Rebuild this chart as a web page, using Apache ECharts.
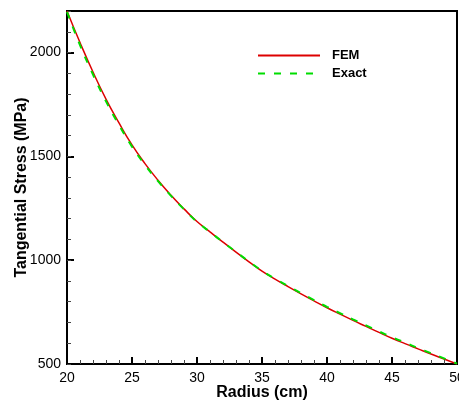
<!DOCTYPE html>
<html><head><meta charset="utf-8">
<script src="https://cdn.jsdelivr.net/npm/echarts@6/dist/echarts.min.js"></script>
<style>html,body{margin:0;padding:0;background:#fff}#c{width:459px;height:401px}</style>
</head><body><div id="c"></div>
<script>
const radius = [20,21,22,23,24,25,26,27,28,29,30,31,32,33,34,35,36,37,38,39,40,41,42,43,44,45,46,47,48,49,50];
const femStress = [2200,2048,1906,1776,1661,1555,1465,1385,1313,1247,1186,1136,1087,1039,992,947,909,873,838,804,771,740,710,681,652,624,598,573,548,524,500];
const exactStress = [2196,2036,1894,1765,1651,1547,1459,1381,1310,1245,1185,1136,1087,1040,993,949,911,876,841,808,775,745,715,686,657,629,603,577,552,527,502];
const seriesNames = ['FEM','Exact'];
const xTitle = 'Radius (cm)';
const yTitle = 'Tangential Stress (MPa)';

const FONT = 'Liberation Sans, Arial, sans-serif';
const chart = echarts.init(document.getElementById('c'), null, {renderer:'canvas'});
const gridBox = {left:67, right:2, top:11, bottom:37, containLabel:false, outerBoundsMode:'none'};
chart.setOption({
  animation:false,
  backgroundColor:'#fff',
  textStyle:{fontFamily:FONT},
  grid:[
    Object.assign({show:true, borderColor:'#000', borderWidth:2, backgroundColor:'transparent'}, gridBox),
    Object.assign({show:false}, gridBox)
  ],
  legend:{
    orient:'vertical', left:257, top:49, padding:0, itemWidth:62, itemHeight:14, itemGap:5,
    itemStyle:{opacity:0},
    textStyle:{fontFamily:FONT, fontWeight:'bold', fontSize:13, color:'#000', padding:[0,0,0,7]},
    data:seriesNames
  },
  xAxis:[{
    gridIndex:0, type:'value', min:20, max:50, interval:5,
    axisLine:{show:true, lineStyle:{color:'#000', width:2}},
    axisTick:{show:true, inside:true, length:7, lineStyle:{color:'#000', width:2}},
    minorTick:{show:true, splitNumber:5, length:4, lineStyle:{color:'#444', width:1}},
    splitLine:{show:false},
    axisLabel:{color:'#000', fontSize:14, fontFamily:FONT, margin:7, formatter:v=>String(v)},
    name:xTitle, nameLocation:'middle', nameGap:21, nameMoveOverlap:false,
    nameTextStyle:{color:'#000', fontWeight:'bold', fontSize:16, fontFamily:FONT}
  },{
    gridIndex:1, type:'value', min:20, max:50, interval:5, show:false
  }],
  yAxis:[{
    gridIndex:0, type:'value', min:500, max:2200, interval:500,
    axisLine:{show:true, lineStyle:{color:'#000', width:2}},
    axisTick:{show:true, inside:true, length:7, lineStyle:{color:'#000', width:2}},
    splitLine:{show:false},
    axisLabel:{color:'#000', fontSize:14, fontFamily:FONT, margin:6, showMaxLabel:false, formatter:v=>String(v)},
    name:yTitle, nameLocation:'middle', nameGap:37, nameMoveOverlap:false,
    nameTextStyle:{color:'#000', fontWeight:'bold', fontSize:16, fontFamily:FONT}
  },{
    gridIndex:1, type:'value', min:500, max:2200, interval:100,
    axisLine:{show:false},
    axisTick:{show:true, inside:true, length:4, lineStyle:{color:'#444', width:1}},
    axisLabel:{show:false},
    splitLine:{show:false}
  }],
  series:[{
    name:seriesNames[0], type:'line', xAxisIndex:0, yAxisIndex:0,
    data:radius.map((r,i)=>[r,femStress[i]]),
    smooth:true, symbol:'none', showSymbol:false,
    lineStyle:{color:'#dd0000', width:1.5}, itemStyle:{color:'#dd0000'}
  },{
    name:seriesNames[1], type:'line', xAxisIndex:0, yAxisIndex:0,
    data:radius.map((r,i)=>[r,exactStress[i]]),
    smooth:true, symbol:'none', showSymbol:false,
    lineStyle:{color:'#00dd00', width:2, type:[7,9]}, itemStyle:{color:'#00dd00'}
  },{
    type:'line', xAxisIndex:1, yAxisIndex:1, data:[], silent:true
  }]
});
</script></body></html>
